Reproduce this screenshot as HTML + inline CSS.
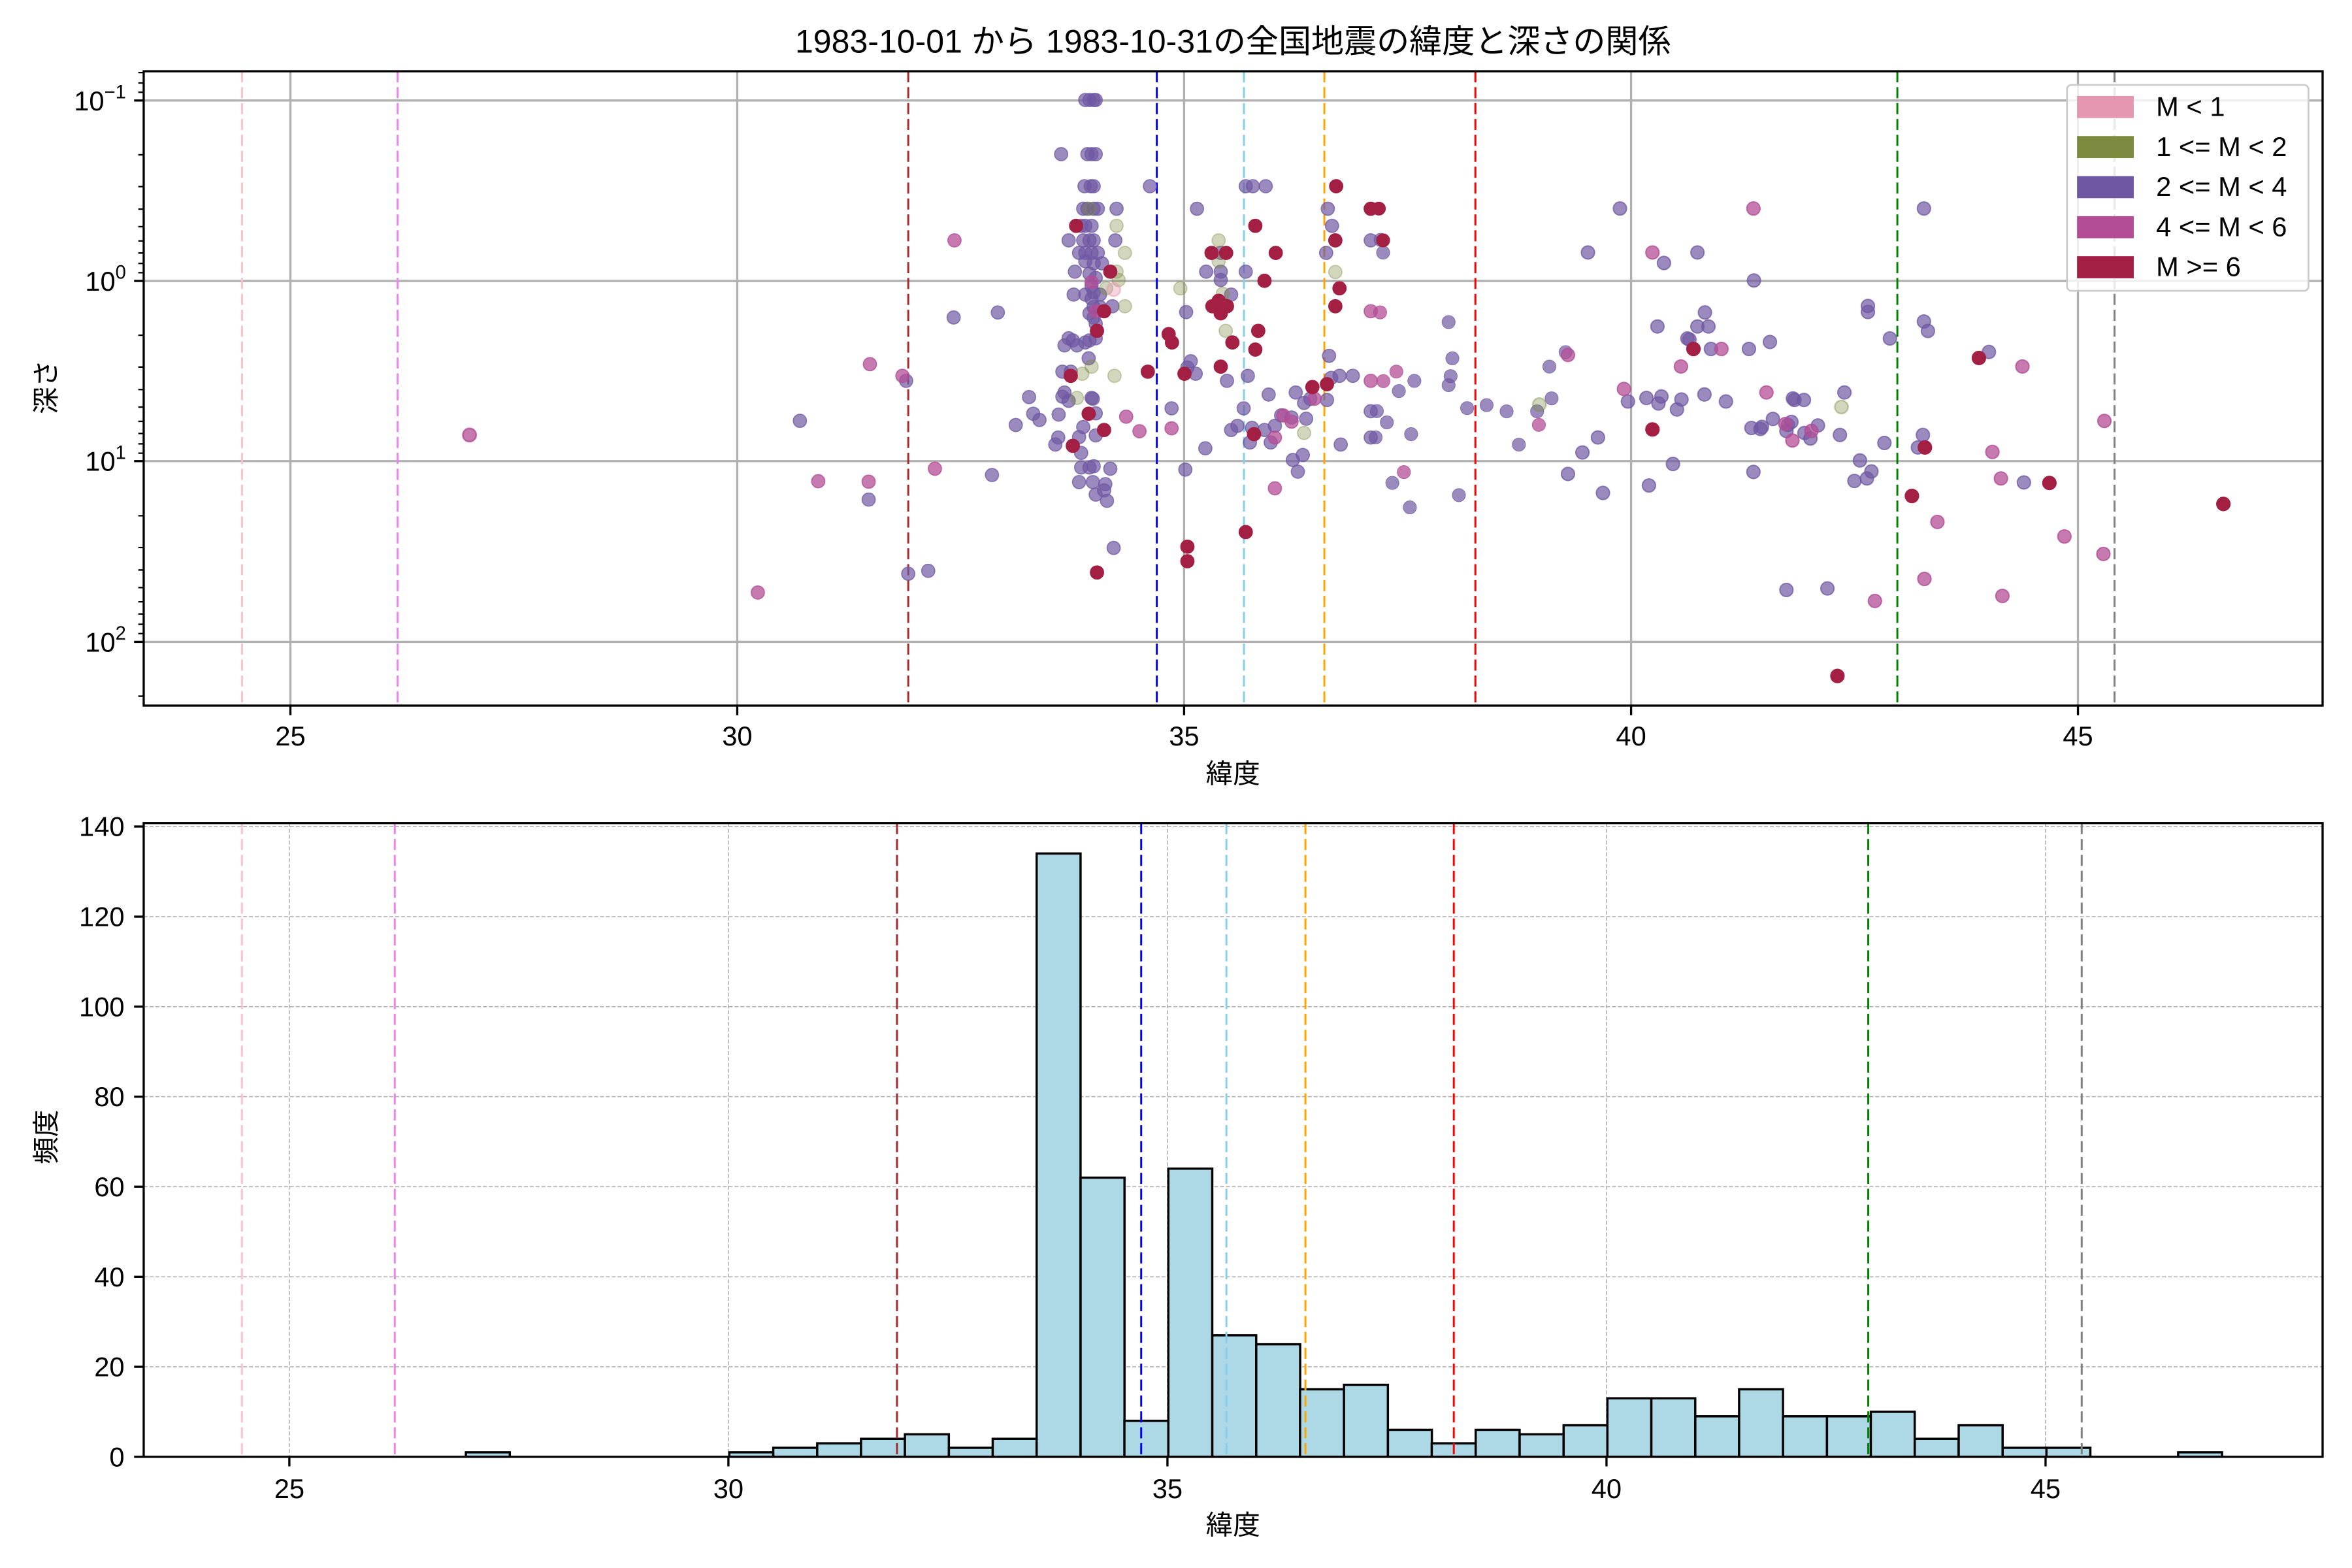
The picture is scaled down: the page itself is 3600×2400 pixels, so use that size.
<!DOCTYPE html>
<html><head><meta charset="utf-8"><style>
html,body{margin:0;padding:0;background:#fff}
svg{display:block}
text{font-family:"Liberation Sans","Noto Sans CJK JP",sans-serif;fill:#000}
.p{fill:#6f58a3;fill-opacity:.7;stroke:#6f58a3;stroke-opacity:.75;stroke-width:2.6px;vector-effect:non-scaling-stroke}
.m{fill:#b34d96;fill-opacity:.75;stroke:#b34d96;stroke-opacity:.8;stroke-width:2.6px;vector-effect:non-scaling-stroke}
.r{fill:#a31f43;stroke:#a31f43;stroke-width:2.6px;vector-effect:non-scaling-stroke}
.o{fill:#7a8a3f;fill-opacity:.35;stroke:#7a8a3f;stroke-opacity:.4;stroke-width:2.6px;vector-effect:non-scaling-stroke}
.k{fill:#e597b2;fill-opacity:.4;stroke:#e597b2;stroke-opacity:.5;stroke-width:2.6px;vector-effect:non-scaling-stroke}
.vl{stroke-width:1.3;stroke-dasharray:7.4 3.2;fill:none}
.bar{fill:#add8e6;stroke:#000;stroke-width:1.5}
</style></head><body>
<svg width="3600" height="2400" viewBox="0 0 1568 1045.33" xmlns="http://www.w3.org/2000/svg">
<rect width="1568" height="1045.33" fill="#fff"/>
<text x="822" y="35" font-size="21.8" text-anchor="middle">1983-10-01 から 1983-10-31の全国地震の緯度と深さの関係</text>

<!-- TOP AXES -->
<g stroke="#b0b0b0" stroke-width="1.45">
<line x1="193.6" y1="47.5" x2="193.6" y2="470.4"/><line x1="491.5" y1="47.5" x2="491.5" y2="470.4"/><line x1="789.4" y1="47.5" x2="789.4" y2="470.4"/><line x1="1087.4" y1="47.5" x2="1087.4" y2="470.4"/><line x1="1385.3" y1="47.5" x2="1385.3" y2="470.4"/>
<line x1="95.8" y1="67" x2="1548.4" y2="67"/><line x1="95.8" y1="187.3" x2="1548.4" y2="187.3"/><line x1="95.8" y1="307.4" x2="1548.4" y2="307.4"/><line x1="95.8" y1="427.9" x2="1548.4" y2="427.9"/>
</g>
<line class="vl" stroke="#ffc0cb" x1="161.4" y1="47.5" x2="161.4" y2="470.4"/>
<line class="vl" stroke="#ee82ee" x1="265.1" y1="47.5" x2="265.1" y2="470.4"/>
<line class="vl" stroke="#a52a2a" x1="605.5" y1="47.5" x2="605.5" y2="470.4"/>
<line class="vl" stroke="#0000ff" x1="771.2" y1="47.5" x2="771.2" y2="470.4"/>
<line class="vl" stroke="#87ceeb" x1="829.3" y1="47.5" x2="829.3" y2="470.4"/>
<line class="vl" stroke="#ffa500" x1="882.9" y1="47.5" x2="882.9" y2="470.4"/>
<line class="vl" stroke="#ff0000" x1="983.6" y1="47.5" x2="983.6" y2="470.4"/>
<line class="vl" stroke="#008000" x1="1264.9" y1="47.5" x2="1264.9" y2="470.4"/>
<line class="vl" stroke="#808080" x1="1409.7" y1="47.5" x2="1409.7" y2="470.4"/>

<!-- scatter: display coords -->
<circle class="m" cx="313" cy="290" r="4.4"/>
<!-- zoom4 group -->
<g transform="translate(479.1,43.6) scale(0.27778)">
<g class="p">
<circle cx="195" cy="853" r="15.8"/><circle cx="360" cy="1042" r="15.8"/><circle cx="450" cy="757" r="15.8"/><circle cx="455" cy="1220" r="15.8"/><circle cx="503" cy="1213" r="15.8"/><circle cx="564" cy="605" r="15.8"/><circle cx="670" cy="593" r="15.8"/><circle cx="656" cy="983" r="15.8"/><circle cx="713" cy="863" r="15.8"/><circle cx="745" cy="796" r="15.8"/><circle cx="755" cy="836" r="15.8"/><circle cx="770" cy="851" r="15.8"/><circle cx="822" cy="213" r="15.8"/><circle cx="816" cy="838" r="15.8"/><circle cx="808" cy="910" r="15.8"/><circle cx="815" cy="893" r="15.8"/>
<circle cx="880" cy="83" r="15.8"/><circle cx="890" cy="83" r="15.8"/><circle cx="900" cy="83" r="15.8"/><circle cx="905" cy="83" r="15.8"/><circle cx="885" cy="213" r="15.8"/><circle cx="895" cy="213" r="15.8"/><circle cx="905" cy="213" r="15.8"/><circle cx="878" cy="290" r="15.8"/><circle cx="893" cy="290" r="15.8"/><circle cx="900" cy="290" r="15.8"/><circle cx="875" cy="344" r="15.8"/><circle cx="885" cy="344" r="15.8"/><circle cx="900" cy="344" r="15.8"/><circle cx="910" cy="344" r="15.8"/><circle cx="955" cy="344" r="15.8"/><circle cx="870" cy="385" r="15.8"/><circle cx="880" cy="385" r="15.8"/><circle cx="895" cy="385" r="15.8"/><circle cx="840" cy="420" r="15.8"/><circle cx="875" cy="420" r="15.8"/><circle cx="890" cy="420" r="15.8"/><circle cx="900" cy="420" r="15.8"/><circle cx="952" cy="420" r="15.8"/><circle cx="865" cy="450" r="15.8"/><circle cx="880" cy="450" r="15.8"/><circle cx="895" cy="450" r="15.8"/><circle cx="910" cy="450" r="15.8"/><circle cx="880" cy="470" r="15.8"/><circle cx="900" cy="475" r="15.8"/><circle cx="920" cy="475" r="15.8"/><circle cx="855" cy="495" r="15.8"/><circle cx="890" cy="500" r="15.8"/><circle cx="905" cy="510" r="15.8"/><circle cx="895" cy="530" r="15.8"/><circle cx="900" cy="545" r="15.8"/><circle cx="852" cy="550" r="15.8"/><circle cx="880" cy="550" r="15.8"/><circle cx="895" cy="560" r="15.8"/><circle cx="915" cy="550" r="15.8"/><circle cx="900" cy="580" r="15.8"/><circle cx="915" cy="580" r="15.8"/><circle cx="945" cy="578" r="15.8"/><circle cx="890" cy="595" r="15.8"/><circle cx="900" cy="605" r="15.8"/><circle cx="905" cy="620" r="15.8"/><circle cx="840" cy="655" r="15.8"/><circle cx="850" cy="660" r="15.8"/><circle cx="860" cy="672" r="15.8"/><circle cx="830" cy="672" r="15.8"/><circle cx="880" cy="665" r="15.8"/><circle cx="890" cy="660" r="15.8"/><circle cx="905" cy="655" r="15.8"/><circle cx="888" cy="703" r="15.8"/><circle cx="825" cy="735" r="15.8"/><circle cx="845" cy="735" r="15.8"/><circle cx="830" cy="785" r="15.8"/><circle cx="825" cy="795" r="15.8"/><circle cx="840" cy="805" r="15.8"/><circle cx="895" cy="798" r="15.8"/><circle cx="898" cy="800" r="15.8"/><circle cx="905" cy="835" r="15.8"/><circle cx="875" cy="868" r="15.8"/><circle cx="865" cy="892" r="15.8"/><circle cx="905" cy="888" r="15.8"/><circle cx="870" cy="930" r="15.8"/><circle cx="870" cy="965" r="15.8"/><circle cx="890" cy="965" r="15.8"/><circle cx="900" cy="962" r="15.8"/><circle cx="940" cy="968" r="15.8"/><circle cx="865" cy="1000" r="15.8"/><circle cx="898" cy="1000" r="15.8"/><circle cx="928" cy="1005" r="15.8"/><circle cx="905" cy="1030" r="15.8"/><circle cx="925" cy="1020" r="15.8"/><circle cx="932" cy="1045" r="15.8"/><circle cx="948" cy="1158" r="15.8"/>
<circle cx="1035" cy="290" r="15.8"/><circle cx="1148" cy="344" r="15.8"/><circle cx="1133" cy="710" r="15.8"/><circle cx="1125" cy="725" r="15.8"/><circle cx="1145" cy="740" r="15.8"/><circle cx="1087" cy="823" r="15.8"/><circle cx="1122" cy="592" r="15.8"/><circle cx="1168" cy="919" r="15.8"/><circle cx="1120" cy="970" r="15.8"/><circle cx="1205" cy="450" r="15.8"/><circle cx="1170" cy="495" r="15.8"/><circle cx="1205" cy="495" r="15.8"/><circle cx="1205" cy="515" r="15.8"/><circle cx="1230" cy="550" r="15.8"/><circle cx="1220" cy="757" r="15.8"/><circle cx="1265" cy="290" r="15.8"/><circle cx="1282" cy="290" r="15.8"/><circle cx="1313" cy="290" r="15.8"/><circle cx="1265" cy="495" r="15.8"/><circle cx="1270" cy="745" r="15.8"/><circle cx="1260" cy="823" r="15.8"/><circle cx="1230" cy="875" r="15.8"/><circle cx="1245" cy="865" r="15.8"/><circle cx="1280" cy="870" r="15.8"/><circle cx="1310" cy="875" r="15.8"/><circle cx="1335" cy="865" r="15.8"/><circle cx="1275" cy="905" r="15.8"/><circle cx="1325" cy="905" r="15.8"/><circle cx="1350" cy="840" r="15.8"/><circle cx="1375" cy="845" r="15.8"/><circle cx="1410" cy="848" r="15.8"/><circle cx="1320" cy="790" r="15.8"/><circle cx="1385" cy="785" r="15.8"/><circle cx="1405" cy="810" r="15.8"/><circle cx="1420" cy="800" r="15.8"/><circle cx="1378" cy="947" r="15.8"/><circle cx="1402" cy="935" r="15.8"/><circle cx="1390" cy="975" r="15.8"/><circle cx="1462" cy="344" r="15.8"/><circle cx="1472" cy="385" r="15.8"/><circle cx="1458" cy="450" r="15.8"/><circle cx="1465" cy="697" r="15.8"/><circle cx="1470" cy="750" r="15.8"/><circle cx="1490" cy="745" r="15.8"/><circle cx="1522" cy="745" r="15.8"/><circle cx="1460" cy="803" r="15.8"/><circle cx="1493" cy="910" r="15.8"/><circle cx="1565" cy="420" r="15.8"/><circle cx="1565" cy="830" r="15.8"/><circle cx="1565" cy="893" r="15.8"/>
</g>
<g class="o">
<circle cx="890" cy="344" r="15.8"/><circle cx="955" cy="385" r="15.8"/><circle cx="975" cy="450" r="15.8"/><circle cx="955" cy="495" r="15.8"/><circle cx="930" cy="535" r="15.8"/><circle cx="960" cy="515" r="15.8"/><circle cx="975" cy="578" r="15.8"/><circle cx="1200" cy="420" r="15.8"/><circle cx="1200" cy="470" r="15.8"/><circle cx="1210" cy="548" r="15.8"/><circle cx="1217" cy="637" r="15.8"/><circle cx="1108" cy="535" r="15.8"/><circle cx="873" cy="740" r="15.8"/><circle cx="895" cy="723" r="15.8"/><circle cx="950" cy="745" r="15.8"/><circle cx="860" cy="798" r="15.8"/><circle cx="1405" cy="882" r="15.8"/><circle cx="1480" cy="496" r="15.8"/>
</g>
<circle class="k" cx="948" cy="538" r="15.8"/>
<g class="m">
<circle cx="94" cy="1265" r="15.8"/><circle cx="239" cy="998" r="15.8"/><circle cx="360" cy="999" r="15.8"/><circle cx="363" cy="717" r="15.8"/><circle cx="441" cy="745" r="15.8"/><circle cx="519" cy="968" r="15.8"/><circle cx="566" cy="420" r="15.8"/><circle cx="895" cy="520" r="15.8"/><circle cx="905" cy="590" r="15.8"/><circle cx="978" cy="843" r="15.8"/><circle cx="1010" cy="878" r="15.8"/><circle cx="1087" cy="871" r="15.8"/><circle cx="1335" cy="893" r="15.8"/><circle cx="1355" cy="840" r="15.8"/><circle cx="1375" cy="855" r="15.8"/><circle cx="1335" cy="1015" r="15.8"/><circle cx="1430" cy="800" r="15.8"/><circle cx="1565" cy="590" r="15.8"/><circle cx="1565" cy="757" r="15.8"/>
</g>
<g class="r">
<circle cx="858" cy="385" r="15.8"/><circle cx="940" cy="495" r="15.8"/><circle cx="925" cy="590" r="15.8"/><circle cx="908" cy="637" r="15.8"/><circle cx="845" cy="745" r="15.8"/><circle cx="888" cy="836" r="15.8"/><circle cx="925" cy="875" r="15.8"/><circle cx="850" cy="913" r="15.8"/><circle cx="908" cy="1217" r="15.8"/><circle cx="1030" cy="735" r="15.8"/><circle cx="1080" cy="645" r="15.8"/><circle cx="1088" cy="665" r="15.8"/><circle cx="1118" cy="740" r="15.8"/><circle cx="1125" cy="1155" r="15.8"/><circle cx="1125" cy="1190" r="15.8"/><circle cx="1183" cy="450" r="15.8"/><circle cx="1218" cy="450" r="15.8"/><circle cx="1200" cy="565" r="15.8"/><circle cx="1185" cy="578" r="15.8"/><circle cx="1220" cy="578" r="15.8"/><circle cx="1205" cy="595" r="15.8"/><circle cx="1233" cy="665" r="15.8"/><circle cx="1205" cy="723" r="15.8"/><circle cx="1288" cy="385" r="15.8"/><circle cx="1337" cy="450" r="15.8"/><circle cx="1310" cy="517" r="15.8"/><circle cx="1295" cy="637" r="15.8"/><circle cx="1288" cy="682" r="15.8"/><circle cx="1285" cy="885" r="15.8"/><circle cx="1425" cy="772" r="15.8"/><circle cx="1265" cy="1120" r="15.8"/><circle cx="1482" cy="290" r="15.8"/><circle cx="1480" cy="420" r="15.8"/><circle cx="1490" cy="535" r="15.8"/><circle cx="1480" cy="578" r="15.8"/><circle cx="1460" cy="765" r="15.8"/><circle cx="1565" cy="344" r="15.8"/>
</g>
</g>
<!-- zoom6 group -->
<g transform="translate(892.9,108.9) scale(0.16668)">
<g class="p">
<circle cx="165" cy="306" r="26.4"/><circle cx="175" cy="357" r="26.4"/><circle cx="437" cy="635" r="26.4"/><circle cx="452" cy="780" r="26.4"/><circle cx="905" cy="755" r="26.4"/><circle cx="840" cy="813" r="26.4"/><circle cx="300" cy="870" r="26.4"/><circle cx="238" cy="911" r="26.4"/><circle cx="445" cy="851" r="26.4"/><circle cx="437" cy="887" r="26.4"/><circle cx="150" cy="991" r="26.4"/><circle cx="190" cy="1036" r="26.4"/><circle cx="145" cy="1096" r="26.4"/><circle cx="287" cy="1083" r="26.4"/><circle cx="511" cy="979" r="26.4"/><circle cx="589" cy="967" r="26.4"/><circle cx="669" cy="992" r="26.4"/><circle cx="791" cy="992" r="26.4"/><circle cx="849" cy="940" r="26.4"/><circle cx="718" cy="1125" r="26.4"/><circle cx="212" cy="1278" r="26.4"/><circle cx="478" cy="1327" r="26.4"/><circle cx="282" cy="1376" r="26.4"/>
</g>
<circle class="o" cx="800" cy="965" r="26.4"/>
<g class="m"><circle cx="163" cy="596" r="26.4"/><circle cx="228" cy="833" r="26.4"/><circle cx="176" cy="871" r="26.4"/><circle cx="798" cy="1046" r="26.4"/><circle cx="258" cy="1235" r="26.4"/></g>
<g class="r"><circle cx="158" cy="181" r="26.4"/><circle cx="175" cy="308" r="26.4"/></g>
</g>
<!-- zoom2 group -->
<g transform="translate(1045.3,0) scale(0.3333)">
<g class="p">
<circle cx="104" cy="417" r="13.2"/><circle cx="40" cy="505" r="13.2"/><circle cx="192" cy="526" r="13.2"/><circle cx="259" cy="505" r="13.2"/><circle cx="372" cy="561" r="13.2"/><circle cx="274" cy="625" r="13.2"/><circle cx="179" cy="653" r="13.2"/><circle cx="259" cy="653" r="13.2"/><circle cx="281" cy="653" r="13.2"/><circle cx="239" cy="677" r="13.2"/><circle cx="243" cy="679" r="13.2"/><circle cx="286" cy="698" r="13.2"/><circle cx="362" cy="698" r="13.2"/><circle cx="404" cy="684" r="13.2"/><circle cx="120" cy="803" r="13.2"/><circle cx="157" cy="796" r="13.2"/><circle cx="187" cy="793" r="13.2"/><circle cx="181" cy="807" r="13.2"/><circle cx="227" cy="799" r="13.2"/><circle cx="218" cy="819" r="13.2"/><circle cx="273" cy="789" r="13.2"/><circle cx="316" cy="803" r="13.2"/><circle cx="60" cy="875" r="13.2"/><circle cx="29" cy="905" r="13.2"/><circle cx="210" cy="928" r="13.2"/><circle cx="70" cy="986" r="13.2"/><circle cx="162" cy="971" r="13.2"/><circle cx="371" cy="944" r="13.2"/><circle cx="410" cy="838" r="13.2"/><circle cx="367" cy="856" r="13.2"/><circle cx="388" cy="854" r="13.2"/><circle cx="385" cy="858" r="13.2"/><circle cx="447" cy="844" r="13.2"/><circle cx="437" cy="862" r="13.2"/><circle cx="440" cy="850" r="13.2"/><circle cx="450" cy="797" r="13.2"/><circle cx="453" cy="800" r="13.2"/><circle cx="472" cy="800" r="13.2"/><circle cx="500" cy="851" r="13.2"/><circle cx="473" cy="866" r="13.2"/><circle cx="485" cy="877" r="13.2"/><circle cx="544" cy="870" r="13.2"/><circle cx="553" cy="785" r="13.2"/><circle cx="584" cy="921" r="13.2"/><circle cx="633" cy="886" r="13.2"/><circle cx="644" cy="677" r="13.2"/><circle cx="600" cy="612" r="13.2"/><circle cx="600" cy="624" r="13.2"/><circle cx="712" cy="643" r="13.2"/><circle cx="720" cy="662" r="13.2"/><circle cx="712" cy="417" r="13.2"/><circle cx="710" cy="870" r="13.2"/><circle cx="700" cy="895" r="13.2"/><circle cx="573" cy="962" r="13.2"/><circle cx="598" cy="957" r="13.2"/><circle cx="607" cy="943" r="13.2"/><circle cx="842" cy="704" r="13.2"/><circle cx="912" cy="965" r="13.2"/><circle cx="437" cy="1180" r="13.2"/><circle cx="519" cy="1177" r="13.2"/><circle cx="0" cy="948" r="13.2"/>
</g>
<g class="m">
<circle cx="371" cy="417" r="13.2"/><circle cx="169" cy="505" r="13.2"/><circle cx="307" cy="698" r="13.2"/><circle cx="226" cy="733" r="13.2"/><circle cx="112" cy="778" r="13.2"/><circle cx="397" cy="785" r="13.2"/><circle cx="435" cy="848" r="13.2"/><circle cx="449" cy="881" r="13.2"/><circle cx="487" cy="862" r="13.2"/><circle cx="909" cy="733" r="13.2"/><circle cx="1073" cy="842" r="13.2"/><circle cx="849" cy="904" r="13.2"/><circle cx="866" cy="957" r="13.2"/><circle cx="739" cy="1044" r="13.2"/><circle cx="993" cy="1073" r="13.2"/><circle cx="1071" cy="1108" r="13.2"/><circle cx="713" cy="1158" r="13.2"/><circle cx="614" cy="1202" r="13.2"/><circle cx="869" cy="1192" r="13.2"/><circle cx="0" cy="710" r="13.2"/>
</g>
<g class="r">
<circle cx="251" cy="698" r="13.2"/><circle cx="169" cy="859" r="13.2"/><circle cx="714" cy="895" r="13.2"/><circle cx="688" cy="992" r="13.2"/><circle cx="822" cy="716" r="13.2"/><circle cx="963" cy="966" r="13.2"/><circle cx="1311" cy="1008" r="13.2"/><circle cx="539" cy="1352" r="13.2"/>
</g>
<circle class="o" cx="547" cy="814" r="13.2"/>
</g>

<!-- top frame & ticks -->
<rect x="95.8" y="47.5" width="1452.6" height="422.9" fill="none" stroke="#000" stroke-width="1.45"/>
<g stroke="#000" stroke-width="1.45">
<line x1="193.6" y1="470.4" x2="193.6" y2="476.8"/><line x1="491.5" y1="470.4" x2="491.5" y2="476.8"/><line x1="789.4" y1="470.4" x2="789.4" y2="476.8"/><line x1="1087.4" y1="470.4" x2="1087.4" y2="476.8"/><line x1="1385.3" y1="470.4" x2="1385.3" y2="476.8"/>
<line x1="89.4" y1="67" x2="95.8" y2="67"/><line x1="89.4" y1="187.3" x2="95.8" y2="187.3"/><line x1="89.4" y1="307.4" x2="95.8" y2="307.4"/><line x1="89.4" y1="427.9" x2="95.8" y2="427.9"/>
</g>
<path stroke="#000" stroke-width="1" d="M92.2 48.4h3.6M92.2 55.3h3.6M92.2 61.5h3.6M92.2 103.2h3.6M92.2 124.4h3.6M92.2 139.4h3.6M92.2 151.1h3.6M92.2 160.6h3.6M92.2 168.7h3.6M92.2 175.6h3.6M92.2 181.8h3.6M92.2 223.5h3.6M92.2 244.7h3.6M92.2 259.7h3.6M92.2 271.4h3.6M92.2 280.9h3.6M92.2 289h3.6M92.2 295.9h3.6M92.2 302.1h3.6M92.2 343.8h3.6M92.2 365h3.6M92.2 380h3.6M92.2 391.7h3.6M92.2 401.2h3.6M92.2 409.3h3.6M92.2 416.2h3.6M92.2 422.4h3.6M92.2 464.1h3.6"/>
<g font-size="18.15" text-anchor="end">
<text x="84" y="73.5">10<tspan font-size="12.7" dy="-8">−1</tspan></text>
<text x="84" y="193.8">10<tspan font-size="12.7" dy="-8">0</tspan></text>
<text x="84" y="313.9">10<tspan font-size="12.7" dy="-8">1</tspan></text>
<text x="84" y="434.4">10<tspan font-size="12.7" dy="-8">2</tspan></text>
</g>
<g font-size="18.15" text-anchor="middle">
<text x="193.6" y="497">25</text><text x="491.5" y="497">30</text><text x="789.4" y="497">35</text><text x="1087.4" y="497">40</text><text x="1385.3" y="497">45</text>
<text x="822" y="522">緯度</text>
</g>
<text font-size="18.15" text-anchor="middle" transform="translate(37,258) rotate(-90)">深さ</text>

<!-- legend -->
<rect x="1378" y="56.6" width="161" height="137.3" rx="3" fill="#fff" fill-opacity=".8" stroke="#cccccc" stroke-width="1.2"/>
<rect x="1384.7" y="64" width="37.8" height="14.7" fill="#e597b2"/>
<rect x="1384.7" y="90.7" width="37.8" height="14.7" fill="#7a8a3f"/>
<rect x="1384.7" y="117.4" width="37.8" height="14.7" fill="#6f58a3"/>
<rect x="1384.7" y="144.1" width="37.8" height="14.7" fill="#b34d96"/>
<rect x="1384.7" y="170.8" width="37.8" height="14.7" fill="#a31f43"/>
<g font-size="18.15">
<text x="1437.4" y="77.3">M &lt; 1</text>
<text x="1437.4" y="104">1 &lt;= M &lt; 2</text>
<text x="1437.4" y="130.7">2 &lt;= M &lt; 4</text>
<text x="1437.4" y="157.4">4 &lt;= M &lt; 6</text>
<text x="1437.4" y="184.1">M &gt;= 6</text>
</g>

<!-- BOTTOM AXES -->
<g stroke="#b0b0b0" stroke-width="0.7" stroke-dasharray="2.6 1.3">
<line x1="192.9" y1="548.7" x2="192.9" y2="971.2"/><line x1="485.6" y1="548.7" x2="485.6" y2="971.2"/><line x1="778.3" y1="548.7" x2="778.3" y2="971.2"/><line x1="1071" y1="548.7" x2="1071" y2="971.2"/><line x1="1363.7" y1="548.7" x2="1363.7" y2="971.2"/>
<line x1="95.8" y1="911.2" x2="1548.4" y2="911.2"/><line x1="95.8" y1="851.2" x2="1548.4" y2="851.2"/><line x1="95.8" y1="791.1" x2="1548.4" y2="791.1"/><line x1="95.8" y1="731.1" x2="1548.4" y2="731.1"/><line x1="95.8" y1="671.1" x2="1548.4" y2="671.1"/><line x1="95.8" y1="611.1" x2="1548.4" y2="611.1"/><line x1="95.8" y1="551" x2="1548.4" y2="551"/>
</g>
<g class="bar">
<rect x="310.6" y="968.2" width="29.27" height="3"/>
<rect x="486.2" y="968.2" width="29.27" height="3"/>
<rect x="515.5" y="965.2" width="29.27" height="6"/>
<rect x="544.8" y="962.2" width="29.27" height="9"/>
<rect x="574" y="959.2" width="29.27" height="12"/>
<rect x="603.3" y="956.2" width="29.27" height="15"/>
<rect x="632.6" y="965.2" width="29.27" height="6"/>
<rect x="661.8" y="959.2" width="29.27" height="12"/>
<rect x="691.1" y="569" width="29.27" height="402.2"/>
<rect x="720.4" y="785.1" width="29.27" height="186.1"/>
<rect x="749.6" y="947.2" width="29.27" height="24"/>
<rect x="778.9" y="779.1" width="29.27" height="192.1"/>
<rect x="808.2" y="890.2" width="29.27" height="81"/>
<rect x="837.5" y="896.2" width="29.27" height="75"/>
<rect x="866.7" y="926.2" width="29.27" height="45"/>
<rect x="896" y="923.2" width="29.27" height="48"/>
<rect x="925.3" y="953.2" width="29.27" height="18"/>
<rect x="954.5" y="962.2" width="29.27" height="9"/>
<rect x="983.8" y="953.2" width="29.27" height="18"/>
<rect x="1013.1" y="956.2" width="29.27" height="15"/>
<rect x="1042.4" y="950.2" width="29.27" height="21"/>
<rect x="1071.6" y="932.2" width="29.27" height="39"/>
<rect x="1100.9" y="932.2" width="29.27" height="39"/>
<rect x="1130.2" y="944.2" width="29.27" height="27"/>
<rect x="1159.4" y="926.2" width="29.27" height="45"/>
<rect x="1188.7" y="944.2" width="29.27" height="27"/>
<rect x="1218" y="944.2" width="29.27" height="27"/>
<rect x="1247.2" y="941.2" width="29.27" height="30"/>
<rect x="1276.5" y="959.2" width="29.27" height="12"/>
<rect x="1305.8" y="950.2" width="29.27" height="21"/>
<rect x="1335.1" y="965.2" width="29.27" height="6"/>
<rect x="1364.3" y="965.2" width="29.27" height="6"/>
<rect x="1452.1" y="968.2" width="29.27" height="3"/>
</g>
<line class="vl" stroke="#ffc0cb" x1="161.3" y1="548.7" x2="161.3" y2="971.2"/>
<line class="vl" stroke="#ee82ee" x1="263.2" y1="548.7" x2="263.2" y2="971.2"/>
<line class="vl" stroke="#a52a2a" x1="598" y1="548.7" x2="598" y2="971.2"/>
<line class="vl" stroke="#0000ff" x1="760.8" y1="548.7" x2="760.8" y2="971.2"/>
<line class="vl" stroke="#87ceeb" x1="817.6" y1="548.7" x2="817.6" y2="971.2"/>
<line class="vl" stroke="#ffa500" x1="870.3" y1="548.7" x2="870.3" y2="971.2"/>
<line class="vl" stroke="#ff0000" x1="969.2" y1="548.7" x2="969.2" y2="971.2"/>
<line class="vl" stroke="#008000" x1="1245.5" y1="548.7" x2="1245.5" y2="971.2"/>
<line class="vl" stroke="#808080" x1="1387.8" y1="548.7" x2="1387.8" y2="971.2"/>
<rect x="95.8" y="548.7" width="1452.6" height="422.5" fill="none" stroke="#000" stroke-width="1.45"/>
<g stroke="#000" stroke-width="1.45">
<line x1="192.9" y1="971.2" x2="192.9" y2="977.6"/><line x1="485.6" y1="971.2" x2="485.6" y2="977.6"/><line x1="778.3" y1="971.2" x2="778.3" y2="977.6"/><line x1="1071" y1="971.2" x2="1071" y2="977.6"/><line x1="1363.7" y1="971.2" x2="1363.7" y2="977.6"/>
<line x1="89.4" y1="971.2" x2="95.8" y2="971.2"/><line x1="89.4" y1="911.2" x2="95.8" y2="911.2"/><line x1="89.4" y1="851.2" x2="95.8" y2="851.2"/><line x1="89.4" y1="791.1" x2="95.8" y2="791.1"/><line x1="89.4" y1="731.1" x2="95.8" y2="731.1"/><line x1="89.4" y1="671.1" x2="95.8" y2="671.1"/><line x1="89.4" y1="611.1" x2="95.8" y2="611.1"/><line x1="89.4" y1="551" x2="95.8" y2="551"/>
</g>
<g font-size="18.15" text-anchor="end">
<text x="83" y="977.6">0</text><text x="83" y="917.6">20</text><text x="83" y="857.6">40</text><text x="83" y="797.5">60</text><text x="83" y="737.5">80</text><text x="83" y="677.5">100</text><text x="83" y="617.5">120</text><text x="83" y="557.4">140</text>
</g>
<g font-size="18.15" text-anchor="middle">
<text x="192.9" y="998.7">25</text><text x="485.6" y="998.7">30</text><text x="778.3" y="998.7">35</text><text x="1071" y="998.7">40</text><text x="1363.7" y="998.7">45</text>
<text x="822" y="1023">緯度</text>
</g>
<text font-size="18.15" text-anchor="middle" transform="translate(37,758) rotate(-90)">頻度</text>
</svg>
</body></html>
